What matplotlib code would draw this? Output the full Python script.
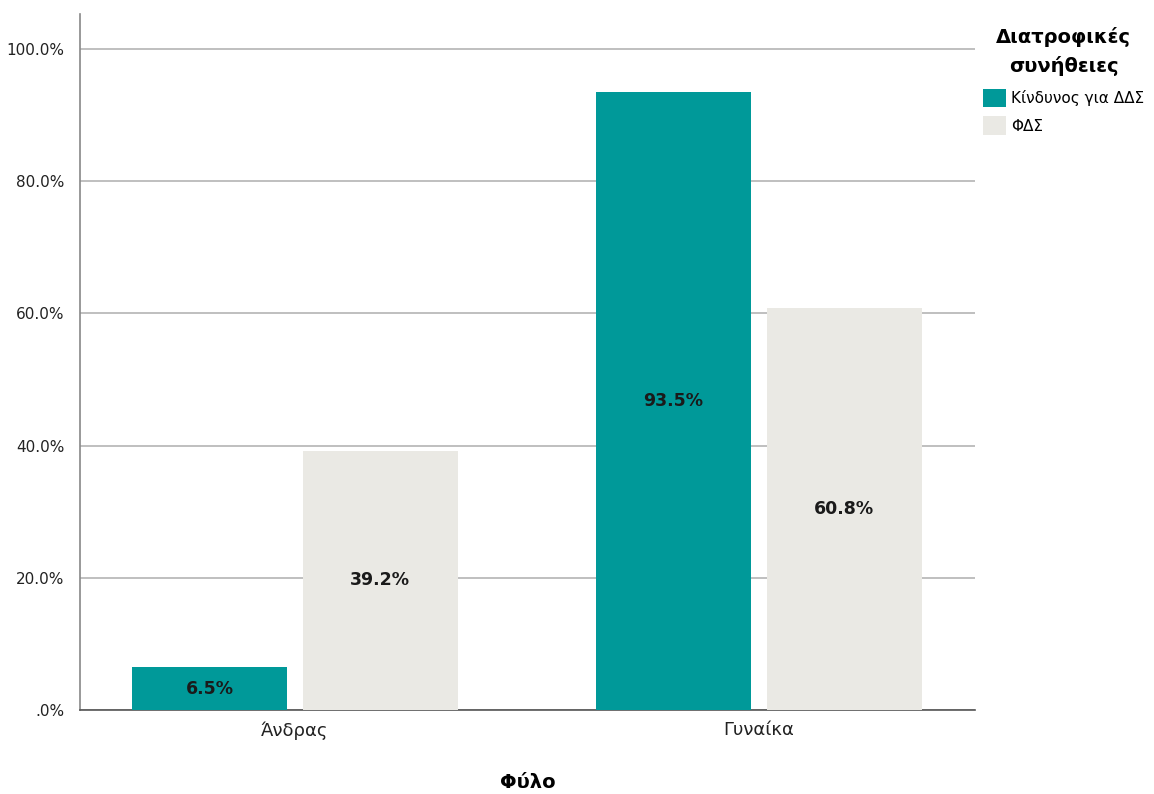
import numpy as np
import matplotlib
matplotlib.use('Agg')
from matplotlib import pyplot as plt
from matplotlib.patches import Patch

categories = ['Άνδρας', 'Γυναίκα']
series_names = ['Κίνδυνος για ΔΔΣ', 'ΦΔΣ']
risk_vals = [6.5, 93.5]
fds_vals = [39.2, 60.8]
yticks = [0, 20, 40, 60, 80, 100]
yticklabels = ['.0%', '20.0%', '40.0%', '60.0%', '80.0%', '100.0%']

teal = '#009999'
grey = '#EAE9E4'

plt.rcParams['font.family'] = ['DejaVu Sans']

fig = plt.figure(figsize=(11.54, 7.94), dpi=100)
ax = fig.add_axes([0.0693, 0.1058, 0.7757, 0.8766])

x = np.arange(len(categories))
w = 0.334
off = 0.184
b1 = ax.bar(x - off, risk_vals, w, color=teal, zorder=3)
b2 = ax.bar(x + off, fds_vals, w, color=grey, zorder=3)

for bars, vals in [(b1, risk_vals), (b2, fds_vals)]:
    for b, v in zip(bars, vals):
        ax.text(b.get_x() + b.get_width() / 2, v / 2, '%.1f%%' % v,
                ha='center', va='center', fontsize=12.5, fontweight='bold',
                color='#1a1a1a', zorder=4)

ax.set_xlim(-0.463, 1.466)
ax.set_ylim(0, 105.3)
ax.set_yticks(yticks)
ax.set_yticklabels(yticklabels, fontsize=11, color='#222222')
ax.set_xticks(x)
ax.set_xticklabels(categories, fontsize=13, color='#222222')
ax.tick_params(axis='both', length=0)
ax.tick_params(axis='y', pad=11)
ax.tick_params(axis='x', pad=8)
ax.yaxis.grid(True, color='#b4b4b4', linewidth=1.2, zorder=0)
ax.set_axisbelow(True)

ax.spines['top'].set_visible(False)
ax.spines['right'].set_visible(False)
ax.spines['left'].set_color('#888888')
ax.spines['bottom'].set_color('#555555')
ax.spines['left'].set_linewidth(1.2)
ax.spines['bottom'].set_linewidth(1.2)

ax.set_xlabel('Φύλο', fontsize=14, fontweight='bold', labelpad=24)

handles = [Patch(facecolor=teal), Patch(facecolor=grey)]
leg = fig.legend(handles, series_names, loc='upper left',
                 bbox_to_anchor=(0.840, 0.983), frameon=False, fontsize=11,
                 title='Διατροφικές\nσυνήθειες',
                 title_fontproperties={'weight': 'bold', 'size': 14},
                 handlelength=1.5, handleheight=1.5, handletextpad=0.35,
                 labelspacing=0.6, alignment='center')
leg.get_title().set_multialignment('center')
leg.get_title().set_linespacing(1.55)
leg._legend_box.sep = 9

fig.savefig('out.png', dpi=100)
plt.close()
